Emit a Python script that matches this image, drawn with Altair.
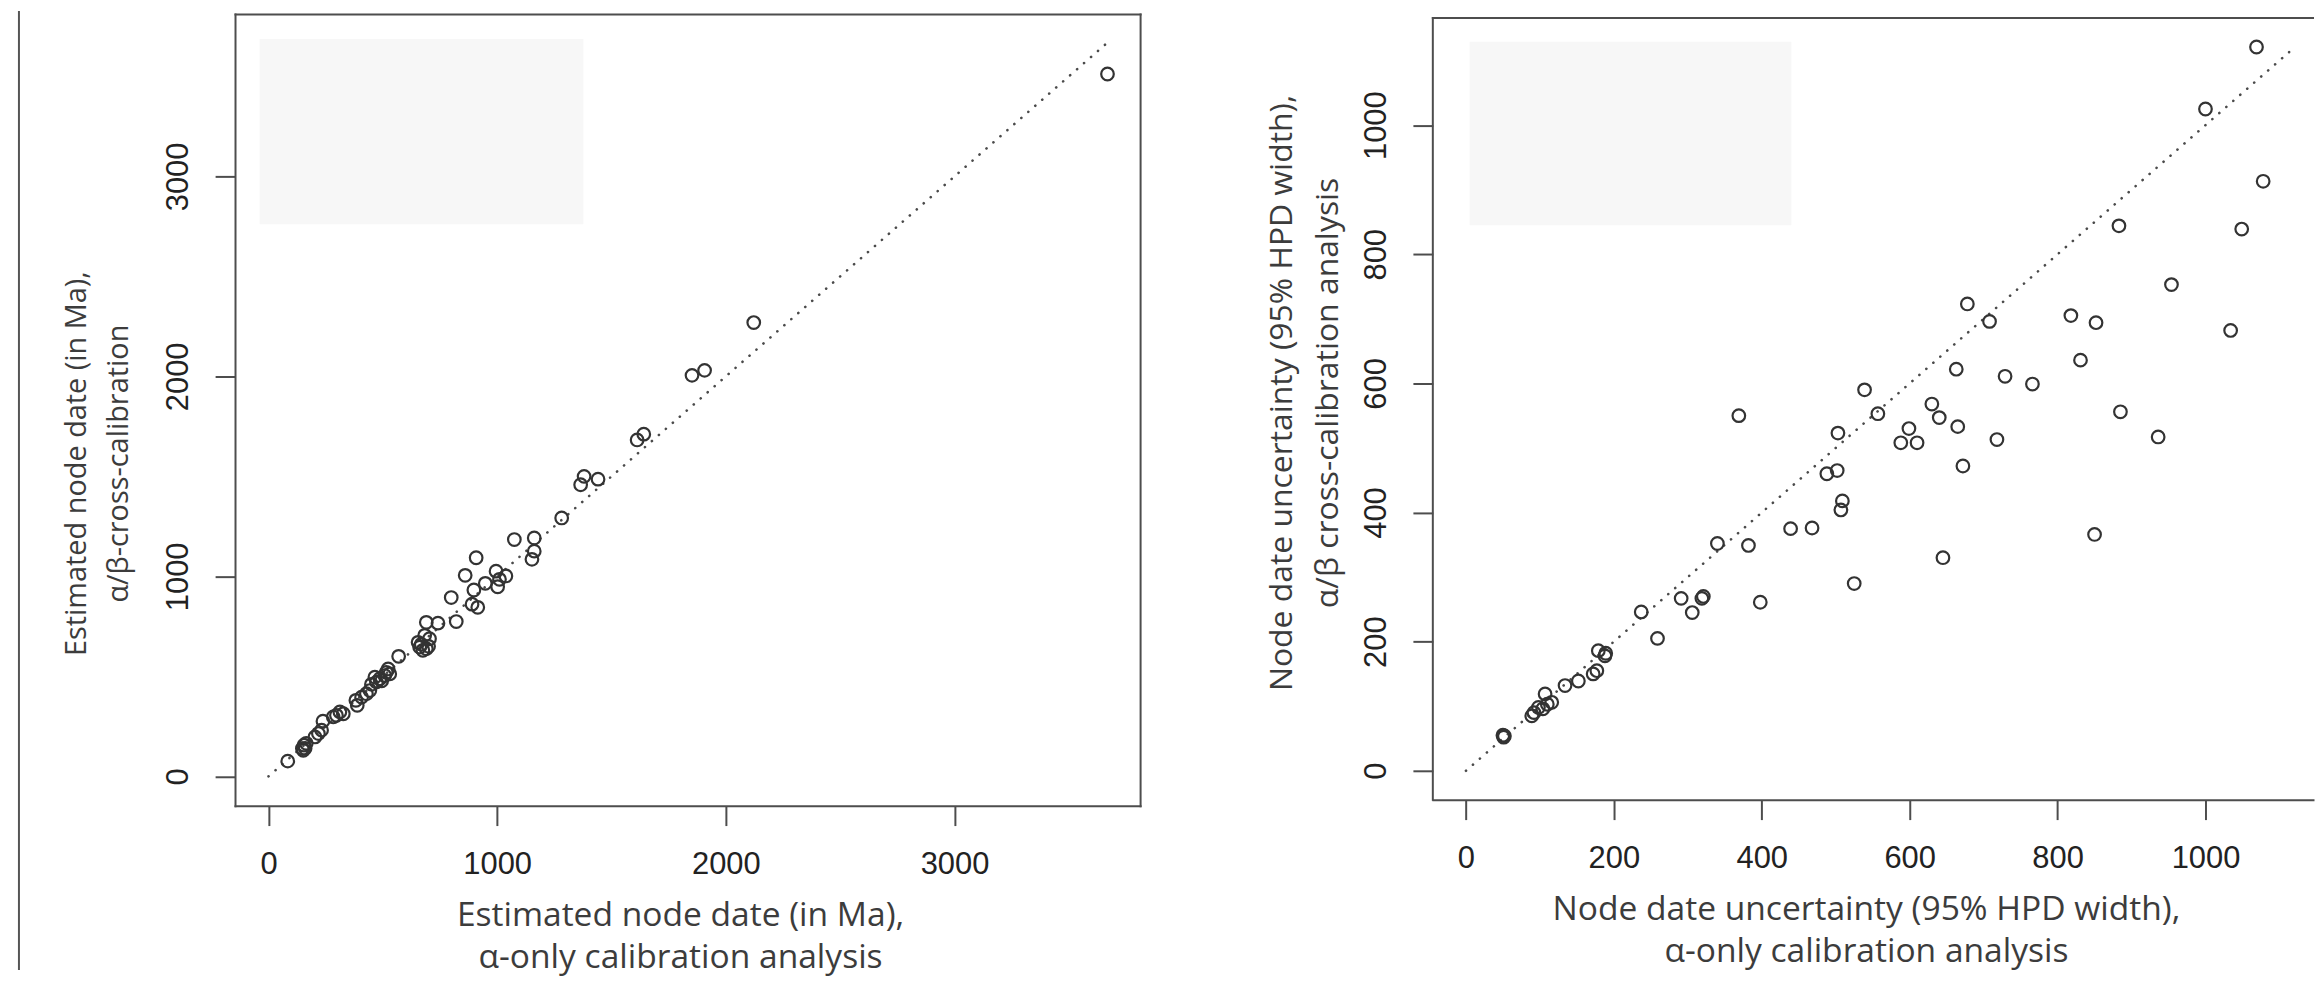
import altair as alt
import pandas as pd

# ---------------- data ----------------
# Left panel: estimated node dates (Ma)
left_alpha = [84, 148, 155, 160, 165, 152, 203, 218, 232, 238, 283, 297, 312, 327,
              382, 388, 407, 428, 443, 450, 465, 472, 487, 495, 508, 515, 523, 530,
              569, 654, 661, 668, 675, 690, 700, 704, 683, 690, 741, 821, 799, 890,
              915, 860, 898, 908, 948, 995, 1002, 1010, 1038, 1075, 1162, 1162, 1152,
              1282, 1365, 1380, 1441, 1612, 1641, 1852, 1907, 2122, 3669]
left_cross = [76, 139, 156, 140, 165, 130, 197, 214, 231, 276, 297, 305, 322, 313,
              380, 355, 396, 413, 429, 460, 496, 471, 488, 478, 504, 520, 537, 512,
              600, 670, 646, 660, 630, 638, 650, 688, 705, 770, 766, 774, 894, 861,
              845, 1005, 932, 1093, 965, 1026, 948, 985, 1002, 1184, 1192, 1126, 1085,
              1292, 1458, 1500, 1486, 1682, 1711, 2005, 2030, 2269, 3512]

# Right panel: node date uncertainty (95% HPD width)
right_alpha = [50, 51, 52, 89, 92, 98, 104, 107, 110, 116, 134, 152, 172, 177, 179,
               188, 189, 237, 259, 291, 306, 319, 321, 340, 369, 382, 398, 439, 468,
               488, 502, 503, 509, 507, 525, 539, 557, 588, 610, 599, 630, 640, 645,
               663, 665, 672, 678, 708, 718, 729, 766, 818, 831, 850, 852, 883, 885,
               936, 954, 1000, 1034, 1049, 1069, 1078]
right_cross = [55, 52, 54, 85, 90, 98, 96, 119, 103, 106, 132, 139, 150, 155, 186,
               178, 182, 246, 205, 267, 245, 267, 270, 352, 550, 349, 261, 375, 376,
               460, 465, 523, 418, 404, 290, 590, 553, 508, 508, 530, 568, 547, 330,
               622, 533, 472, 723, 696, 513, 611, 599, 705, 636, 366, 694, 844, 556,
               517, 753, 1025, 682, 839, 1121, 913]

# 1:1 reference lines
left_line = [0, 3670]
right_line = [0, 1122]

# tick values
left_ticks = [0, 1000, 2000, 3000]
right_ticks = [0, 200, 400, 600, 800, 1000]

# axis extents
left_domain = [-146.6, 3811.6]
right_x_domain = [-44.8, 1145.4]
right_y_domain = [-44.8, 1172.0]
right_y_top = 1165.8          # upper edge of the right panel's frame

# light grey boxes (in data units)
left_box_x = [-39, 1377]
left_box_y = [2761, 3687]
right_box_x = [5, 440]
right_box_y = [845, 1129]

# titles
left_xtitle = ["Estimated node date (in Ma),", "\u03b1-only calibration analysis"]
left_ytitle = ["Estimated node date (in Ma),", "\u03b1/\u03b2-cross-calibration"]
right_xtitle = ["Node date uncertainty (95% HPD width),", "\u03b1-only calibration analysis"]
right_ytitle = ["Node date uncertainty (95% HPD width),", "\u03b1/\u03b2 cross-calibration analysis"]

# ---------------- styling ----------------
INK = "#4d4d4d"
PT = "#333333"
TITLE_FONT = "Open Sans"
LABEL_FONT = "Liberation Sans"


def make_panel(xs_vals, ys_vals, line_vals, box_x, box_y, xdom, ydom, xticks, yticks,
               xtitle, ytitle, w, h, xt_x, xt_y, yt_x, yt_y, yt_size, yt_lh,
               frame_top, extra_layers):
    pts = pd.DataFrame({"a": xs_vals, "b": ys_vals})
    ln = pd.DataFrame({"a": line_vals, "b": line_vals})
    bx = pd.DataFrame({"x1": [box_x[0]], "x2": [box_x[1]], "y1": [box_y[0]], "y2": [box_y[1]]})

    xs = alt.Scale(domain=xdom, nice=False, zero=False)
    ys = alt.Scale(domain=ydom, nice=False, zero=False)

    common = dict(labelFont=LABEL_FONT, labelFontSize=31, labelColor="#222222",
                  tickColor=INK, domainColor=INK, tickWidth=2, domainWidth=2,
                  tickSize=20, domainCap="square", titleFont=TITLE_FONT,
                  titleColor="#3c3c3c", titleFontWeight="normal", grid=False)

    xaxis = alt.Axis(values=xticks, orient="bottom", title=xtitle, format="d",
                     labelPadding=24, labelFlush=False, labelAngle=0,
                     titleFontSize=33.7, titleLineHeight=43, titleX=xt_x, titleY=xt_y,
                     titleAlign="center", titleBaseline="alphabetic", titleAngle=0,
                     **common)
    yaxis = alt.Axis(values=yticks, orient="left", title=ytitle, format="d",
                     labelPadding=21, labelFlush=False, labelAngle=270,
                     labelAlign="center", labelBaseline="bottom",
                     titleFontSize=yt_size, titleLineHeight=yt_lh, titleX=yt_x, titleY=yt_y,
                     titleAlign="center", titleBaseline="alphabetic", titleAngle=270,
                     domain=(frame_top is None), **common)

    box = alt.Chart(bx).mark_rect(color="#f7f7f7").encode(
        x=alt.X("x1:Q", scale=xs, axis=None), x2="x2:Q",
        y=alt.Y("y1:Q", scale=ys, axis=None), y2="y2:Q")
    line = alt.Chart(ln).mark_line(color="#4a4a4a", strokeWidth=2.6,
                                   strokeDash=[0.1, 9.2], strokeCap="round").encode(
        x=alt.X("a:Q", scale=xs, axis=None), y=alt.Y("b:Q", scale=ys, axis=None))
    points = alt.Chart(pts).mark_point(shape="circle", filled=False, size=160,
                                       strokeWidth=2.2, color=PT, opacity=1).encode(
        x=alt.X("a:Q", scale=xs, axis=xaxis), y=alt.Y("b:Q", scale=ys, axis=yaxis))

    layers = [box, line, points]
    if frame_top is None:
        topaxis = alt.Axis(orient="top", labels=False, ticks=False, domain=True, title=None,
                           domainColor=INK, domainWidth=2, domainCap="square", grid=False)
        rightaxis = alt.Axis(orient="right", labels=False, ticks=False, domain=True,
                             title=None, domainColor=INK, domainWidth=2,
                             domainCap="square", grid=False)
        frame = alt.Chart(pts).mark_point(opacity=0).encode(
            x=alt.X("a:Q", scale=xs, axis=topaxis),
            y=alt.Y("b:Q", scale=ys, axis=rightaxis))
        layers.append(frame)
    else:
        one = pd.DataFrame({"k": [0]})
        top_rule = alt.Chart(one).mark_rule(color=INK, strokeWidth=2, strokeCap="square").encode(
            x=alt.XDatum(xdom[0], scale=xs, axis=None, type="quantitative"),
            x2=alt.X2Datum(xdom[1]),
            y=alt.YDatum(frame_top, scale=ys, axis=None, type="quantitative"))
        left_rule = alt.Chart(one).mark_rule(color=INK, strokeWidth=2, strokeCap="square").encode(
            x=alt.XDatum(xdom[0], scale=xs, axis=None, type="quantitative"),
            y=alt.YDatum(ydom[0], scale=ys, axis=None, type="quantitative"),
            y2=alt.Y2Datum(frame_top))
        layers += [top_rule, left_rule]

    layers += extra_layers
    return alt.layer(*layers).resolve_axis(x="independent", y="independent").properties(
        width=w, height=h)


one_row = pd.DataFrame({"k": [0]})
edge_rule = alt.Chart(one_row).mark_rule(color="#555555", strokeWidth=2).encode(
    x=alt.value(-217), y=alt.value(-3), y2=alt.value(960))

left = make_panel(left_alpha, left_cross, left_line, left_box_x, left_box_y,
                  left_domain, left_domain, left_ticks, left_ticks,
                  left_xtitle, left_ytitle, 909, 795,
                  447, 120, -150, 451, 29, 42, None, [edge_rule])
right = make_panel(right_alpha, right_cross, right_line, right_box_x, right_box_y,
                   right_x_domain, right_y_domain, right_ticks, right_ticks,
                   right_xtitle, right_ytitle, 884, 789,
                   435, 120, -142, 380, 32, 46, right_y_top, [])

chart = alt.hconcat(left, right, spacing=125).properties(
    padding={"left": 10, "top": 0, "right": 0, "bottom": 4},
    background="white"
).configure_view(stroke=None)

chart.save("out.html", embed_options={"renderer": "svg", "actions": False})
